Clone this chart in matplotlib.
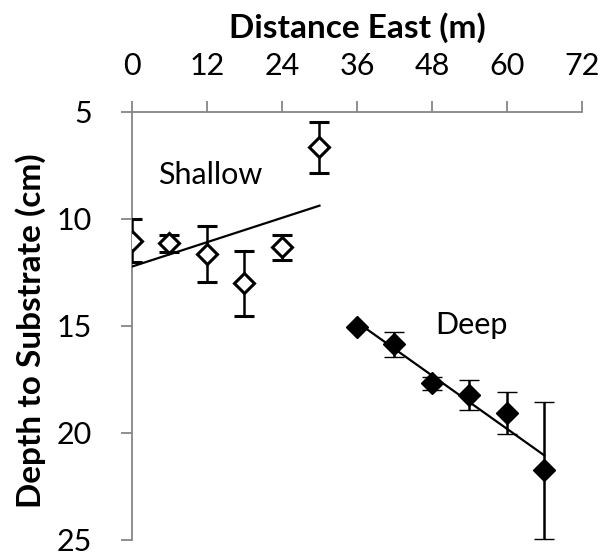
import numpy as np
import matplotlib
matplotlib.use('Agg')
import matplotlib.pyplot as plt

# ── Data ──────────────────────────────────────────────────────────────────────
shallow_x   = [0, 6, 12, 18, 24, 30]
shallow_y   = [11.03, 11.15, 11.66, 13.02, 11.34, 6.66]
shallow_err = [1.0, 0.4, 1.3, 1.5, 0.6, 1.2]

deep_x   = [36, 42, 48, 54, 60, 66]
deep_y   = [15.05, 15.87, 17.69, 18.24, 19.07, 21.74]
deep_err = [0.0, 0.6, 0.3, 0.7, 1.0, 3.2]

x_ticks = [0, 12, 24, 36, 48, 60, 72]
y_ticks = [5, 10, 15, 20, 25]

AXIS_GREY = '#868686'

plt.rcParams.update({
    'font.family': ['Lato', 'DejaVu Sans'],
    'font.size': 22,
})

fig = plt.figure(figsize=(6.04, 5.56), dpi=100)
ax = fig.add_axes([0.2185, 0.029, 0.745, 0.770])

# ── Points with error bars ────────────────────────────────────────────────────
ax.errorbar(shallow_x, shallow_y, yerr=shallow_err, fmt='D', ms=10.5,
            mfc='white', mec='black', mew=2.2, ecolor='black', elinewidth=1.8,
            capsize=7, capthick=1.8, zorder=4)
ax.errorbar(deep_x, deep_y, yerr=deep_err, fmt='D', ms=11,
            mfc='black', mec='black', mew=1, ecolor='black', elinewidth=1.8,
            capsize=7, capthick=1.8, zorder=4)

# ── Linear trendlines ─────────────────────────────────────────────────────────
for xs, ys in [(shallow_x, shallow_y), (deep_x, deep_y)]:
    k, b = np.polyfit(xs, ys, 1)
    xx = np.array([min(xs), max(xs)])
    ax.plot(xx, k * xx + b, color='black', lw=1.6, zorder=3)

ax.text(12.5, 7.96, 'Shallow', ha='center', va='center', fontsize=22)
ax.text(54.4, 14.97, 'Deep', ha='center', va='center', fontsize=22)

# ── Axes ──────────────────────────────────────────────────────────────────────
ax.set_xlim(0, 72)
ax.set_ylim(25, 5)
ax.xaxis.tick_top()
ax.xaxis.set_label_position('top')
ax.set_xticks(x_ticks)
ax.set_yticks(y_ticks)
ax.set_xlabel('Distance East (m)', fontweight='bold', fontsize=24, labelpad=10)
ax.set_ylabel('Depth to Substrate (cm)', fontweight='bold', fontsize=24)
ax.yaxis.set_label_coords(-0.19, 0.488)

for side in ['bottom', 'right']:
    ax.spines[side].set_visible(False)
for side in ['top', 'left']:
    ax.spines[side].set_color(AXIS_GREY)
    ax.spines[side].set_linewidth(1.3)
ax.tick_params(axis='both', direction='out', length=8, width=1.3,
               color=AXIS_GREY, labelsize=22)
ax.tick_params(axis='x', pad=15)
ax.tick_params(axis='y', pad=21)

fig.savefig('out.png', dpi=100)
